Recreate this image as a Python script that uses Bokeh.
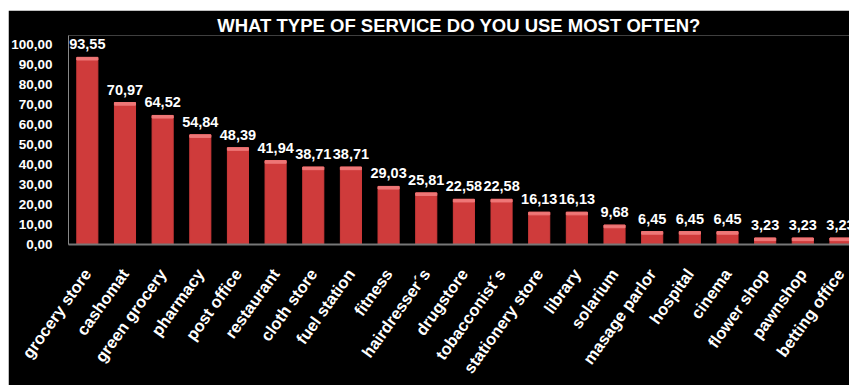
from bokeh.plotting import figure
from bokeh.models import Range1d, FixedTicker, ColumnDataSource, LabelSet
from bokeh.core.properties import value
from bokeh.embed import file_html
from bokeh.resources import INLINE

categories = ["grocery store", "cashomat", "green grocery", "pharmacy", "post office",
              "restaurant", "cloth store", "fuel station", "fitness", "hairdresser´s",
              "drugstore", "tobacconist´s", "stationery store", "library", "solarium",
              "masage parlor", "hospital", "cinema", "flower shop", "pawnshop", "betting office"]
values = [93.55, 70.97, 64.52, 54.84, 48.39, 41.94, 38.71, 38.71, 29.03, 25.81,
          22.58, 22.58, 16.13, 16.13, 9.68, 6.45, 6.45, 6.45, 3.23, 3.23, 3.23]
y_ticks = [0, 10, 20, 30, 40, 50, 60, 70, 80, 90, 100]
y_tick_labels = ["0,00", "10,00", "20,00", "30,00", "40,00", "50,00",
                 "60,00", "70,00", "80,00", "90,00", "100,00"]
title_text = "WHAT TYPE OF SERVICE DO YOU USE MOST OFTEN?"

xs = list(range(len(categories)))
src = ColumnDataSource(dict(
    x=xs,
    v=values,
    cap=[v - 1.3 for v in values],
    lbl=[f"{v:.2f}".replace(".", ",") for v in values],
))

p = figure(width=841, height=375, x_range=Range1d(-0.5, 20.24), y_range=Range1d(0, 104.5),
           output_backend="svg", toolbar_location=None,
           background_fill_color="black", border_fill_color="black",
           min_border_left=57, min_border_right=0, min_border_top=25, min_border_bottom=141,
           margin=(10, 0, 0, 8))
p.outline_line_color = None
p.grid.grid_line_color = None

p.title.text = title_text
p.title.text_color = "white"
p.title.text_font = "Liberation Sans"
p.title.text_font_style = "bold"
p.title.text_font_size = "18.5px"
p.title.align = "center"
p.title.offset = 6
p.title.standoff = 0

p.vbar(x="x", top="v", width=0.56, color="#cf3b3b", source=src)
p.vbar(x="x", bottom="cap", top="v", width=0.56, color="#ee7777", source=src)

labels = LabelSet(x="x", y="v", text="lbl", source=src, text_align="center",
                  text_baseline="bottom", y_offset=8, text_color="white",
                  text_font=value("Liberation Sans"), text_font_style="bold",
                  text_font_size="14.5px")
p.add_layout(labels)

ya = p.yaxis[0]
ya.ticker = FixedTicker(ticks=y_ticks)
ya.major_label_overrides = dict(zip(y_ticks, y_tick_labels))
ya.major_label_text_color = "white"
ya.major_label_text_font = "Liberation Sans"
ya.major_label_text_font_style = "bold"
ya.major_label_text_font_size = "13.5px"
ya.axis_line_color = "#888888"
ya.major_tick_line_color = None
ya.minor_tick_line_color = None
ya.major_label_standoff = 10

xa = p.xaxis[0]
xa.ticker = FixedTicker(ticks=xs)
xa.major_label_overrides = dict(zip(xs, categories))
xa.major_label_orientation = 0.95
xa.major_label_text_color = "white"
xa.major_label_text_font = "Liberation Sans"
xa.major_label_text_font_style = "bold"
xa.major_label_text_font_size = "16.5px"
xa.axis_line_color = "#777777"
xa.axis_line_width = 2
xa.major_tick_line_color = None
xa.minor_tick_line_color = None
xa.major_label_standoff = 20

open("out.html", "w").write(file_html(p, INLINE))
